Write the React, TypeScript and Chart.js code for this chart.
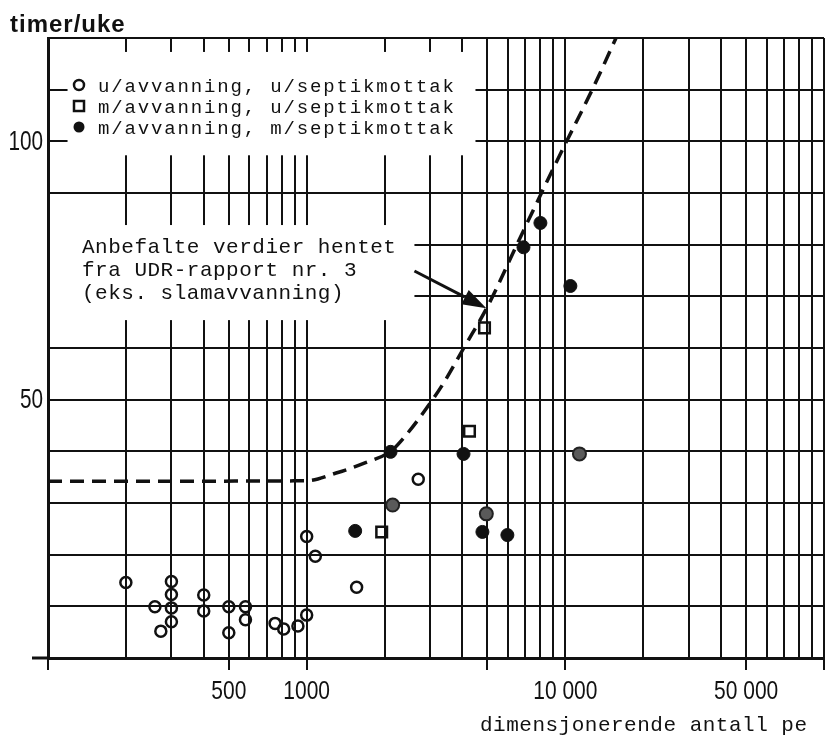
import React, { useEffect, useRef } from 'react';
import { Chart, registerables } from 'chart.js';

Chart.register(...registerables);

const INK = '#111111';

// ---- series names ----
const seriesNames = [
  'u/avvanning, u/septikmottak',
  'm/avvanning, u/septikmottak',
  'm/avvanning, m/septikmottak',
];

// ---- data (x = dimensjonerende antall pe, y = timer/uke) ----
const openX = [200, 259, 273, 300, 300, 300, 300, 400, 400, 500, 500, 580, 580, 755, 815, 925, 1000, 1000, 1080, 1560, 2700];
const openY = [14.6, 9.9, 5.2, 14.8, 12.3, 9.7, 7.0, 12.2, 9.1, 9.9, 4.9, 9.9, 7.4, 6.7, 5.6, 6.2, 8.3, 23.5, 19.7, 13.7, 34.6];

const squareX = [1950, 4260, 4870];
const squareY = [24.4, 43.9, 63.9];

const filledX = [1540, 2110, 4040, 4780, 5970, 6890, 8010, 10460];
const filledY = [24.6, 39.9, 39.5, 24.4, 23.8, 79.5, 84.2, 72.0];

// filled points that print greyish in the scan
const shadedX = [2150, 4950, 11340];
const shadedY = [29.6, 27.9, 39.5];

// recommended values (UDR-rapport nr. 3), dashed curve
const curveX = [100, 1000, 1300, 1670, 2110, 2390, 3010, 3410, 4070, 5000, 6710, 9320, 12960, 15700];
const curveY = [34.2, 34.3, 35.8, 37.7, 40.0, 42.8, 49.4, 53.5, 60.2, 68.0, 81.5, 96.4, 110.9, 120];

// ---- axes ----
const xMin = 100;
const xMax = 100000;
const yMin = 0;
const yMax = 120;
const yStep = 10;
const xDecades = [100, 1000, 10000];
const xMultipliers = [1, 2, 3, 4, 5, 6, 7, 8, 9];
const xTickValues = [500, 1000, 10000, 50000];
const xTickLabels = ['500', '1000', '10 000', '50 000'];
const xStubValues = [100, 500, 1000, 5000, 10000, 50000, 100000];
const yTickValues = [50, 100];
const yTickLabels = ['50', '100'];

// ---- texts ----
const yTitle = 'timer/uke';
const xTitle = 'dimensjonerende antall pe';
const noteLines = ['Anbefalte verdier hentet', 'fra UDR-rapport nr. 3', '(eks. slamavvanning)'];
const arrowFrom = [2610, 74.9];
const arrowTo = [4950, 67.7];
const legendMask = { x: [119, 4494], y: [97.3, 117.3] };
const noteMask = { x: [100, 2610], y: [65.4, 83.8] };

const xGridValues: number[] = [];
xDecades.forEach((d) => xMultipliers.forEach((m) => xGridValues.push(d * m)));
xGridValues.push(xMax);

const pts = (xs: number[], ys: number[]) => xs.map((x, i) => ({ x, y: ys[i] }));

const MONO = '"Liberation Mono", monospace';
const SANS = '"Liberation Sans", Arial, sans-serif';

const decor = {
  id: 'decor',
  beforeDatasetsDraw(chart: any) {
    const { ctx, chartArea } = chart;
    const x = chart.scales.x;
    const y = chart.scales.y;
    ctx.save();
    ctx.fillStyle = '#ffffff';
    [legendMask, noteMask].forEach((m) => {
      const l = Math.max(x.getPixelForValue(m.x[0]), chartArea.left + 2);
      const r = x.getPixelForValue(m.x[1]);
      const t = y.getPixelForValue(m.y[1]);
      const b = y.getPixelForValue(m.y[0]);
      ctx.fillRect(l, t, r - l, b - t);
    });
    ctx.strokeStyle = INK;
    ctx.lineWidth = 3;
    ctx.beginPath();
    ctx.moveTo(chartArea.left - 16, chartArea.bottom);
    ctx.lineTo(chartArea.left, chartArea.bottom);
    ctx.stroke();
    ctx.restore();
  },
  afterDatasetsDraw(chart: any) {
    const { ctx, chartArea } = chart;
    const x = chart.scales.x;
    const y = chart.scales.y;
    ctx.save();
    ctx.fillStyle = INK;
    ctx.strokeStyle = INK;

    // tick labels (condensed like the printed original)
    ctx.font = '28px ' + SANS;
    ctx.textAlign = 'right';
    ctx.textBaseline = 'middle';
    yTickValues.forEach((v, i) => {
      ctx.save();
      ctx.translate(chartArea.left - 5, y.getPixelForValue(v) + 1);
      ctx.scale(0.74, 1);
      ctx.fillText(yTickLabels[i], 0, 0);
      ctx.restore();
    });
    ctx.font = '25px ' + SANS;
    ctx.textAlign = 'center';
    ctx.textBaseline = 'alphabetic';
    xTickValues.forEach((v, i) => {
      ctx.save();
      ctx.translate(x.getPixelForValue(v), chartArea.bottom + 41);
      ctx.scale(0.84, 1);
      ctx.fillText(xTickLabels[i], 0, 0);
      ctx.restore();
    });

    // legend
    const lx = chartArea.left + 31;
    const tx = chartArea.left + 50;
    const base = [chartArea.top + 54, chartArea.top + 75, chartArea.top + 96];
    ctx.font = '19px ' + MONO;
    (ctx as any).letterSpacing = '1.85px';
    ctx.textBaseline = 'alphabetic';
    ctx.textAlign = 'left';
    seriesNames.forEach((name, i) => {
      const my = base[i] - 7;
      ctx.lineWidth = 2.5;
      ctx.beginPath();
      if (i === 0) {
        ctx.arc(lx, my, 5, 0, Math.PI * 2);
        ctx.stroke();
      } else if (i === 1) {
        ctx.strokeRect(lx - 5, my - 5, 10, 10);
      } else {
        ctx.arc(lx, my, 5.5, 0, Math.PI * 2);
        ctx.fill();
      }
      ctx.fillText(name, tx, base[i]);
    });

    // note
    ctx.font = '21px ' + MONO;
    (ctx as any).letterSpacing = '0.5px';
    noteLines.forEach((line, i) => {
      ctx.fillText(line, chartArea.left + 34, chartArea.top + 215 + i * 23);
    });

    // arrow
    const x0 = x.getPixelForValue(arrowFrom[0]);
    const y0 = y.getPixelForValue(arrowFrom[1]);
    const x1 = x.getPixelForValue(arrowTo[0]);
    const y1 = y.getPixelForValue(arrowTo[1]);
    const ang = Math.atan2(y1 - y0, x1 - x0);
    const hl = 24;
    const hw = 8;
    const bx = x1 - hl * Math.cos(ang);
    const by = y1 - hl * Math.sin(ang);
    ctx.lineWidth = 3;
    ctx.beginPath();
    ctx.moveTo(x0, y0);
    ctx.lineTo(bx, by);
    ctx.stroke();
    ctx.beginPath();
    ctx.moveTo(x1, y1);
    ctx.lineTo(bx + hw * Math.sin(ang), by - hw * Math.cos(ang));
    ctx.lineTo(bx - hw * Math.sin(ang), by + hw * Math.cos(ang));
    ctx.closePath();
    ctx.fill();

    // axis titles
    ctx.font = 'bold 24px ' + SANS;
    (ctx as any).letterSpacing = '1px';
    ctx.fillText(yTitle, 10, chartArea.top - 6);
    ctx.font = '21px ' + MONO;
    (ctx as any).letterSpacing = '0.5px';
    ctx.fillText(xTitle, 480, chartArea.bottom + 73);
    ctx.restore();
  },
};

export default function App() {
  const ref = useRef<HTMLCanvasElement | null>(null);

  useEffect(() => {
    if (!ref.current) return;
    const chart = new Chart(ref.current, {
      type: 'scatter',
      data: {
        datasets: [
          {
            label: seriesNames[0],
            data: pts(openX, openY),
            pointStyle: 'circle',
            pointRadius: 5.5,
            borderWidth: 2.5,
            borderColor: INK,
            backgroundColor: 'rgba(0,0,0,0)',
          },
          {
            label: seriesNames[1],
            data: pts(squareX, squareY),
            pointStyle: 'rect',
            pointRadius: 7.5,
            borderWidth: 2.5,
            borderColor: INK,
            backgroundColor: 'rgba(255,255,255,0)',
          },
          {
            label: seriesNames[2],
            data: pts(filledX, filledY),
            pointStyle: 'circle',
            pointRadius: 6.5,
            borderWidth: 1,
            borderColor: INK,
            backgroundColor: INK,
          },
          {
            label: seriesNames[2] + ' ',
            data: pts(shadedX, shadedY),
            pointStyle: 'circle',
            pointRadius: 6.5,
            borderWidth: 2,
            borderColor: '#222',
            backgroundColor: '#5a5a5a',
          },
          {
            label: 'Anbefalte verdier',
            data: pts(curveX, curveY),
            showLine: true,
            pointRadius: 0,
            borderColor: INK,
            borderWidth: 3.5,
            borderDash: [14, 8],
            cubicInterpolationMode: 'monotone',
            fill: false,
          } as any,
        ],
      },
      options: {
        responsive: false,
        animation: false,
        layout: { autoPadding: false, padding: { left: 0, top: 38, right: 1, bottom: 0 } },
        plugins: { legend: { display: false }, tooltip: { enabled: false } },
        scales: {
          x: {
            type: 'logarithmic',
            min: xMin,
            max: xMax,
            afterBuildTicks: (s: any) => {
              s.ticks = xGridValues.map((v) => ({ value: v }));
            },
            afterFit: (s: any) => {
              s.height = 78;
              s.paddingLeft = 0;
              s.paddingRight = 0;
            },
            grid: {
              color: INK,
              lineWidth: 2,
              drawTicks: true,
              tickLength: 12,
              tickWidth: 2,
              tickColor: (c: any) => (c.tick && xStubValues.includes(c.tick.value) ? INK : 'rgba(0,0,0,0)'),
            },
            border: { color: INK, width: 3 },
            ticks: { display: false, autoSkip: false, maxRotation: 0, minRotation: 0 },
          },
          y: {
            type: 'linear',
            min: yMin,
            max: yMax,
            afterFit: (s: any) => {
              s.width = 48;
              s.paddingTop = 0;
              s.paddingBottom = 0;
            },
            grid: { color: INK, lineWidth: 2, drawTicks: false },
            border: { color: INK, width: 3 },
            ticks: { display: false, stepSize: yStep },
          },
        },
      } as any,
      plugins: [decor],
    });
    return () => chart.destroy();
  }, []);

  return (
    <div style={{ position: 'fixed', left: 0, top: 0, width: 825, height: 736, background: '#fff' }}>
      <canvas ref={ref} width={825} height={736} style={{ display: 'block' }} />
    </div>
  );
}
